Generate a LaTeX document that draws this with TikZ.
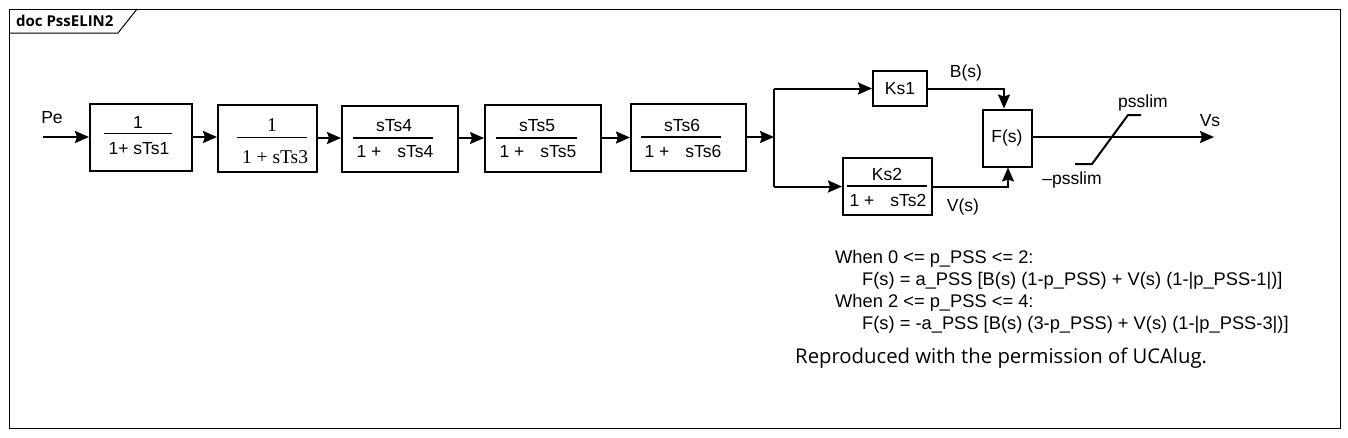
\documentclass[tikz,border=0pt]{standalone}
\usepackage{fontspec}
\setmainfont{Liberation Sans}
\newfontfamily\tms{Liberation Serif}
\newfontfamily\seg{Open Sans}
\usetikzlibrary{arrows.meta,calc}
\begin{document}
\begin{tikzpicture}[x=1pt,y=-1pt,
  blk/.style={draw,line width=2pt,inner sep=0pt},
  wire/.style={line width=2pt},
  arr/.style={wire,-{Stealth[length=14pt,width=12pt,inset=2pt]}},
  lbl/.style={inner sep=0pt,font=\fontsize{17.5}{21}\selectfont},
  tlbl/.style={inner sep=0pt,font=\tms\fontsize{19.5}{23}\selectfont},
  frac/.style={line width=1.2pt}
]
\useasboundingbox (0,0) rectangle (1348,437);
\fill[white] (0,0) rectangle (1348,437);
% frame
\draw[line width=1pt] (9,9) rectangle (1340,428);
\draw[line width=1pt] (9,33) -- (118,33) -- (137,9);
\node[inner sep=0pt,anchor=west,font=\seg\bfseries\fontsize{15}{18}\selectfont] (title) at (16,21) {doc PssELIN2};

% blocks
\node[blk,minimum width=102pt,minimum height=67pt] (b1) at (141,137) {};
\node[blk,minimum width=99pt,minimum height=67pt] (b2) at (267.5,138.5) {};
\node[blk,minimum width=116pt,minimum height=66pt] (b3) at (400,139) {};
\node[blk,minimum width=116pt,minimum height=67pt] (b4) at (543,138.5) {};
\node[blk,minimum width=115pt,minimum height=67pt] (b5) at (688.5,137.5) {};
\node[blk,minimum width=54pt,minimum height=35pt] (ks1) at (900,88.5) {};
\node[blk,minimum width=89pt,minimum height=57pt] (ks2) at (887.5,186.5) {};
\node[blk,minimum width=49pt,minimum height=57pt] (F) at (1007.5,138) {};

% block contents
\node[lbl] (b1n) at (138,122) {1};
\draw[frac] (104,133.5) -- (172,133.5);
\node[lbl] (b1d) at (139,149) {1+ sTs1};

\node[tlbl] (b2n) at (272,125) {1};
\draw[frac] (237,137.5) -- (307,137.5);
\node[tlbl] (b2d) at (275,157) {1 + sTs3};

\node[lbl] (b3n) at (394,126) {sTs4};
\draw[frac] (353,138) -- (433,138);
\node[lbl] (b3d) at (395,152) {1 +\hspace{16pt}sTs4};

\node[lbl] (b4n) at (537,126) {sTs5};
\draw[frac] (496,138) -- (577,138);
\node[lbl] (b4d) at (538,152) {1 +\hspace{16pt}sTs5};

\node[lbl] (b5n) at (682,125) {sTs6};
\draw[frac] (641,137) -- (721,137);
\node[lbl] (b5d) at (683,151) {1 +\hspace{16pt}sTs6};

\node[lbl] (k1t) at (900,89) {Ks1};
\node[lbl] (k2n) at (887,174) {Ks2};
\draw[frac] (847,186) -- (927,186);
\node[lbl] (k2d) at (888,200) {1 +\hspace{16pt}sTs2};
\node[lbl] (Ft) at (1007,138) {F(s)};

% labels
\node[lbl] (pe) at (52,118) {Pe};
\node[lbl] (bs) at (966,73) {B(s)};
\node[lbl] (vsl) at (963,207) {V(s)};
\node[lbl] (vs) at (1210,121) {Vs};
\node[lbl] (lim1) at (1143,103) {psslim};
\node[lbl] (lim2) at (1072,180) {\textendash psslim};

% connectors
\coordinate (in) at (43,137);
\coordinate (sp) at (774,137);
\coordinate (spt) at (774,88.5);
\coordinate (spb) at (774,186.5);
\coordinate (out) at (1214,137);
\draw[arr] (in) -- (b1.west |- in);
\draw[arr] (b1.east |- in) -- (b2.west |- in);
\draw[arr] (b2.east |- 0,138) -- (b3.west |- 0,138);
\draw[arr] (b3.east |- 0,138) -- (b4.west |- 0,138);
\draw[arr] (b4.east |- 0,137.5) -- (b5.west |- 0,137.5);
\draw[arr] (b5.east |- sp) -- (sp);
\draw[wire] (spt) -- (spb);
\draw[arr] (spt) -- (ks1.west);
\draw[arr] (spb) -- (ks2.west);
\draw[arr] (ks1.east) -| ([xshift=-3.5pt]F.north);
\draw[arr] (ks2.east) -| ([xshift=0.5pt]F.south);
\draw[arr] (F.east |- out) -- (out);
% limiter symbol
\draw[wire] (1075,164) -- (1092,164) -- (1128,115) -- (1141,115);

% equations
\begin{scope}[every node/.style={inner sep=0pt,anchor=base west,font=\fontsize{18.3}{21}\selectfont}]
\node (e1) at (835,263) {When 0 <= p\_PSS <= 2:};
\node (e2) at (862,285) {F(s) = a\_PSS [B(s) (1-p\_PSS) + V(s) (1-|p\_PSS-1|)]};
\node (e3) at (835,307) {When 2 <= p\_PSS <= 4:};
\node (e4) at (862,329) {F(s) = -a\_PSS [B(s) (3-p\_PSS) + V(s) (1-|p\_PSS-3|)]};
\end{scope}
\node[inner sep=0pt,anchor=base west,font=\seg\fontsize{20.3}{24}\selectfont] (rep) at (795,363) {Reproduced with the permission of UCAlug.};
\end{tikzpicture}
\end{document}
